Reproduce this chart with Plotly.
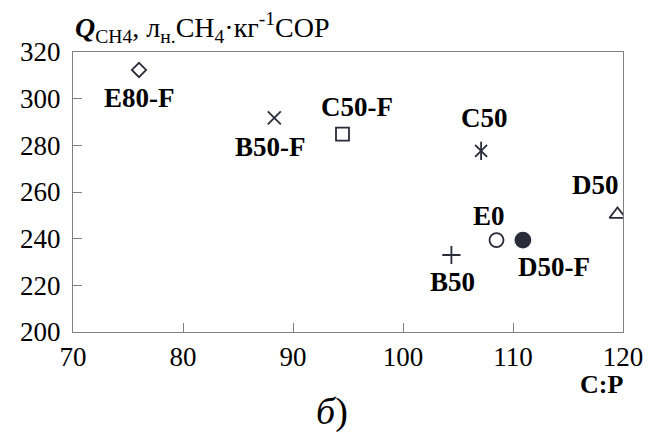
import plotly.graph_objects as go

names = ["E80-F", "B50-F", "C50-F", "C50", "D50", "E0", "D50-F", "B50"]
cp = [76.0, 88.3, 94.5, 107.1, 119.5, 108.5, 110.9, 104.4]
q = [312.3, 291.8, 284.8, 277.6, 250.4, 239.4, 239.4, 233.0]
# C50 uses a six-armed star: an "x" overlaid with a vertical stroke
symbols = ["diamond-open", "x-thin-open", "square-open", ["x-thin-open", "line-ns-open"],
           "triangle-up-open", "circle-open", "circle", "cross-thin-open"]
sizes = [11, 13, 13, 12, 14, 14, 15, 13]
label_dx = [0, -4, 14, 3, -22, -8, 31, 1]
label_dy = [-28, -29, 27, 33, 29, 24, -27, -27]

xticks = [70, 80, 90, 100, 110, 120]
yticks = [200, 220, 240, 260, 280, 300, 320]

serif = "Liberation Serif, Times New Roman, serif"
mcol = "#2b2b3a"
fig = go.Figure()
for i in range(len(names)):
    syms = symbols[i] if isinstance(symbols[i], list) else [symbols[i]]
    for s in syms:
        fig.add_trace(go.Scatter(
            x=[cp[i]], y=[q[i]], mode="markers", showlegend=False,
            marker=dict(symbol=s, size=sizes[i] + (1 if s == "line-ns-open" else 0),
                        color=mcol, line=dict(color=mcol, width=1.8)),
        ))
    fig.add_annotation(x=cp[i], y=q[i], text="<b>%s</b>" % names[i],
                       showarrow=False, xshift=label_dx[i], yshift=label_dy[i],
                       font=dict(family=serif, size=27, color="black"))

fig.add_annotation(xref="paper", yref="paper", x=0.0, y=1.0, xanchor="left", yanchor="bottom",
                   yshift=3, xshift=0, showarrow=False,
                   text="<b><i>Q</i></b><sub>CH4</sub>, л<sub>н.</sub>CH<sub>4</sub>·кг<sup>-1</sup>СОР",
                   font=dict(family=serif, size=28, color="black"))
fig.add_annotation(xref="paper", yref="paper", x=1.0, y=0, xanchor="right", yanchor="top",
                   xshift=2, yshift=-36, showarrow=False, text="<b>C:P</b>",
                   font=dict(family=serif, size=26, color="black"))
fig.add_annotation(xref="paper", yref="paper", x=0.47, y=0, xanchor="center", yanchor="top",
                   yshift=-56, showarrow=False, text="<i>б</i>)",
                   font=dict(family=serif, size=38, color="black"))

axis_common = dict(showgrid=False, zeroline=False, showline=True, linecolor="#808080",
                   linewidth=1.2, mirror=True, ticks="inside", ticklen=9,
                   tickcolor="#808080", tickwidth=1.2,
                   tickfont=dict(family=serif, size=27, color="black"))
fig.update_xaxes(range=[70, 120], tickvals=xticks, ticklabelstandoff=0, **axis_common)
fig.update_yaxes(range=[200, 320], tickvals=yticks, ticklabelstandoff=6, **axis_common)

# page body has an 8px default margin, so the figure is offset by 8px
fig.update_layout(width=654, height=437, plot_bgcolor="white", paper_bgcolor="white",
                  margin=dict(l=61, r=39, t=44, b=113))
fig.write_html("out.html")
